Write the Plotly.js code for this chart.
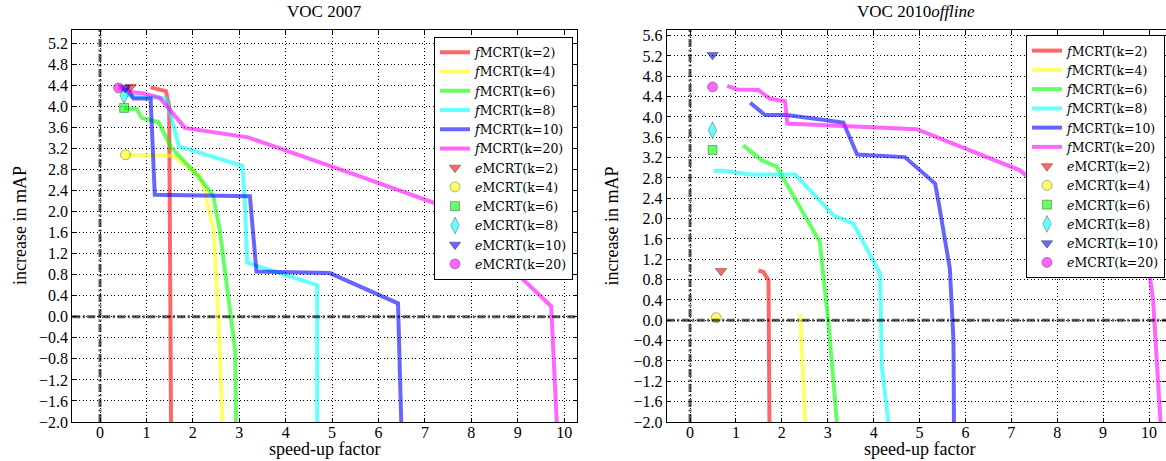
<!DOCTYPE html>
<html>
<head>
<meta charset="utf-8">
<script src="https://cdn.plot.ly/plotly-3.0.1.min.js"></script>
<style>html,body{margin:0;padding:0;background:#fff;}#chart{width:1166px;height:461px;}</style>
</head>
<body>
<div id="chart"></div>
<script>
// ---------- Series names ----------
const fNames = ["<i>f</i>MCRT(k=2)","<i>f</i>MCRT(k=4)","<i>f</i>MCRT(k=6)","<i>f</i>MCRT(k=8)","<i>f</i>MCRT(k=10)","<i>f</i>MCRT(k=20)"];
const eNames = ["<i>e</i>MCRT(k=2)","<i>e</i>MCRT(k=4)","<i>e</i>MCRT(k=6)","<i>e</i>MCRT(k=8)","<i>e</i>MCRT(k=10)","<i>e</i>MCRT(k=20)"];

// ---------- VOC 2007 ----------
const v07_f2_x  = [1.09, 1.42, 1.49, 1.50, 1.53];
const v07_f2_y  = [4.36, 4.29, 4.00, 1.60, -2.0];
const v07_f4_x  = [0.60, 1.58, 2.15, 2.28, 2.30, 2.45, 2.55, 2.64];
const v07_f4_y  = [3.08, 3.06, 2.67, 2.35, 2.20, 1.65, 0.00, -2.0];
const v07_f6_x  = [0.52, 0.79, 0.90, 1.26, 1.54, 2.12, 2.44, 2.58, 2.91, 2.93];
const v07_f6_y  = [3.96, 3.95, 3.78, 3.70, 3.21, 2.67, 2.30, 1.65, -0.63, -2.0];
const v07_f8_x  = [0.55, 0.68, 1.43, 1.70, 3.07, 3.12, 3.17, 4.68, 4.68];
const v07_f8_y  = [4.22, 4.19, 4.15, 3.24, 2.87, 2.20, 1.03, 0.60, -2.0];
const v07_f10_x = [0.57, 0.72, 1.09, 1.18, 3.23, 3.37, 4.95, 6.42, 6.49];
const v07_f10_y = [4.35, 4.15, 4.15, 2.32, 2.29, 0.86, 0.83, 0.255, -2.0];
const v07_f20_x = [0.40, 0.65, 0.93, 1.29, 1.83, 3.19, 5.60, 7.18, 8.97, 9.54, 9.72, 9.84];
const v07_f20_y = [4.35, 4.27, 4.25, 4.16, 3.59, 3.41, 2.67, 2.17, 0.83, 0.35, 0.20, -2.0];
const v07_e_x   = [0.66, 0.55, 0.52, 0.52, 0.54, 0.40];
const v07_e_y   = [4.37, 3.08, 3.97, 4.21, 4.35, 4.35];

// ---------- VOC 2010 offline ----------
const v10_f2_x  = [1.49, 1.60, 1.71, 1.73];
const v10_f2_y  = [0.98, 0.95, 0.79, -2.0];
const v10_f4_x  = [2.40, 2.51];
const v10_f4_y  = [0.12, -2.0];
const v10_f6_x  = [1.16, 1.56, 1.89, 2.54, 2.83, 2.90, 3.01, 3.20];
const v10_f6_y  = [3.44, 3.15, 3.02, 1.97, 1.54, 0.92, 0.00, -2.0];
const v10_f8_x  = [0.51, 0.76, 1.31, 2.29, 3.12, 3.56, 4.14, 4.18, 4.32];
const v10_f8_y  = [2.94, 2.94, 2.87, 2.87, 2.07, 1.90, 0.92, -0.92, -2.0];
const v10_f10_x = [1.31, 1.63, 2.11, 3.34, 3.64, 4.68, 5.34, 5.42, 5.66, 5.74, 5.75];
const v10_f10_y = [4.28, 4.04, 4.04, 3.89, 3.26, 3.21, 2.69, 2.30, 1.02, -0.40, -2.0];
const v10_f20_x = [0.81, 1.02, 1.49, 1.74, 2.07, 2.12, 4.94, 5.45, 7.19, 10.02, 10.09, 10.25];
const v10_f20_y = [4.61, 4.54, 4.53, 4.36, 4.31, 3.87, 3.76, 3.58, 2.95, 0.85, 0.39, -2.0];
const v10_e_x   = [0.675, 0.57, 0.49, 0.49, 0.49, 0.49];
const v10_e_y   = [0.97, 0.05, 3.35, 3.74, 5.22, 4.59];

// ---------- Ticks / labels ----------
const xTicks = [0,1,2,3,4,5,6,7,8,9,10];
const titles = ["VOC 2007", "VOC 2010<i>offline</i>"];
const xTitle = "speed-up factor";
const yTitle = "increase in mAP";

// ---------- Styles ----------
const colors = ["rgba(255,0,0,0.6)","rgba(255,255,0,0.6)","rgba(0,255,0,0.6)","rgba(0,255,255,0.6)","rgba(0,0,255,0.6)","rgba(255,0,255,0.6)"];
const symbols = ["triangle-down","circle","square","diamond-tall","triangle-down","circle"];
const sizes = [10,10,9,12,10,10];
const FONT = "Liberation Serif, Times New Roman, serif";
const LFONT = "DejaVu Serif, serif";

function buildTraces(fx, fy, ex, ey, xa, ya, leg) {
  const tr = [];
  for (let i = 0; i < 6; i++) {
    tr.push({x: fx[i], y: fy[i], xaxis: xa, yaxis: ya, legend: leg, mode: "lines", name: fNames[i],
      line: {color: colors[i], width: 4}, hoverinfo: "skip"});
  }
  for (let i = 0; i < 6; i++) {
    tr.push({x: [ex[i]], y: [ey[i]], xaxis: xa, yaxis: ya, legend: leg, mode: "markers", name: eNames[i],
      marker: {color: colors[i], symbol: symbols[i], size: sizes[i], line: {color: "rgba(0,0,0,0.45)", width: 0.7}}, hoverinfo: "skip"});
  }
  return tr;
}

const traces = [].concat(
  buildTraces([v07_f2_x,v07_f4_x,v07_f6_x,v07_f8_x,v07_f10_x,v07_f20_x],
              [v07_f2_y,v07_f4_y,v07_f6_y,v07_f8_y,v07_f10_y,v07_f20_y], v07_e_x, v07_e_y, "x", "y", "legend"),
  buildTraces([v10_f2_x,v10_f4_x,v10_f6_x,v10_f8_x,v10_f10_x,v10_f20_x],
              [v10_f2_y,v10_f4_y,v10_f6_y,v10_f8_y,v10_f10_y,v10_f20_y], v10_e_x, v10_e_y, "x2", "y2", "legend2")
);

const common = {showgrid: true, gridcolor: "black", griddash: "1px,2.5px", gridwidth: 1, zeroline: false,
  showline: true, linecolor: "black", linewidth: 1, mirror: "ticks", ticks: "inside", ticklen: 4, tickcolor: "black",
  tickfont: {family: FONT, size: 16, color: "black"}};

function xAxis(domain, range, anchor) {
  return Object.assign({domain: domain, range: range, anchor: anchor, tickvals: xTicks, ticktext: xTicks.map(String),
    ticklabelstandoff: -4}, common);
}
function yAxis(domain, range, anchor) {
  return Object.assign({domain: domain, range: range, anchor: anchor, tick0: 0, dtick: 0.4, tickformat: ".1f"}, common);
}

const zeroLine = {color: "rgba(0,0,0,0.65)", width: 3, dash: "8px,2.5px,2px,2.5px"};
const shapes = [
  {type: "line", xref: "x", yref: "y domain", x0: 0, x1: 0, y0: 0, y1: 1, line: zeroLine},
  {type: "line", xref: "x domain", yref: "y", x0: 0, x1: 1, y0: 0, y1: 0, line: zeroLine},
  {type: "line", xref: "x2", yref: "y2 domain", x0: 0, x1: 0, y0: 0, y1: 1, line: zeroLine},
  {type: "line", xref: "x2 domain", yref: "y2", x0: 0, x1: 1, y0: 0, y1: 0, line: zeroLine}
];

const legendStyle = {bgcolor: "white", bordercolor: "black", borderwidth: 1, font: {family: LFONT, size: 12.5, color: "black"},
  xanchor: "right", yanchor: "top", tracegroupgap: 0, entrywidth: 100};

const tFont = {family: FONT, size: 17, color: "black"};
const aFont = {family: FONT, size: 18, color: "black"};
const yMid = 1 - 226/461;
const xTitleY = 1 - 449/461;
const annotations = [
  {text: titles[0], xref: "x domain", yref: "paper", x: 0.5, y: 1 - 12/461, xanchor: "center", yanchor: "middle", showarrow: false, font: tFont},
  {text: titles[1], xref: "x2 domain", yref: "paper", x: 0.5, y: 1 - 12/461, xanchor: "center", yanchor: "middle", showarrow: false, font: tFont},
  {text: xTitle, xref: "x domain", yref: "paper", x: 0.5, y: xTitleY, xanchor: "center", yanchor: "middle", showarrow: false, font: aFont, borderpad: 0},
  {text: xTitle, xref: "paper", yref: "paper", x: (690 + 45.9*5)/1166, y: xTitleY, xanchor: "center", yanchor: "middle", showarrow: false, font: aFont, borderpad: 0},
  {text: yTitle, xref: "paper", yref: "paper", x: 20/1166, y: yMid, xanchor: "center", yanchor: "middle", textangle: -90, showarrow: false, font: aFont},
  {text: yTitle, xref: "paper", yref: "paper", x: 611.5/1166, y: yMid, xanchor: "center", yanchor: "middle", textangle: -90, showarrow: false, font: aFont}
];

const layout = {
  width: 1166, height: 461, margin: {l: 0, r: 0, t: 0, b: 0},
  paper_bgcolor: "white", plot_bgcolor: "white",
  font: {family: FONT, color: "black"},
  xaxis: xAxis([0.0620, 0.4946], [-0.597, 10.27], "y"),
  yaxis: yAxis([0.0846, 0.9349], [-2, 5.45], "x"),
  xaxis2: xAxis([0.5718, 1.0], [-0.508, 10.37], "y2"),
  yaxis2: yAxis([0.0846, 0.9349], [-2, 5.71], "x2"),
  legend: Object.assign({x: 573/1166, y: (461-36.5)/461}, legendStyle),
  legend2: Object.assign({x: 1165/1166, y: (461-35)/461}, legendStyle),
  shapes: shapes,
  annotations: annotations,
  showlegend: true
};

Plotly.newPlot("chart", traces, layout, {displayModeBar: false, staticPlot: true});
</script>
</body>
</html>
